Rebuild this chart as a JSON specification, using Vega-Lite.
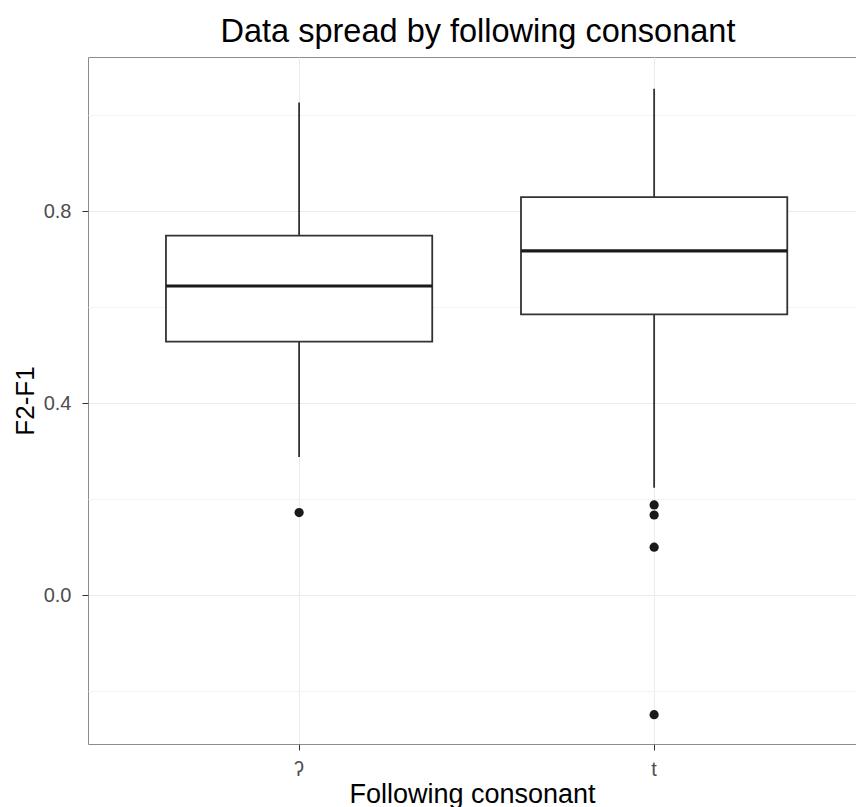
{
  "$schema": "https://vega.github.io/schema/vega-lite/v6.json",
  "autosize": {"type": "none"},
  "padding": {"left": 88, "top": 57, "right": 0, "bottom": 63},
  "width": 768,
  "height": 687,
  "background": "white",
  "title": {"text": "Data spread by following consonant", "fontSize": 32.5, "font": "Liberation Sans", "fontWeight": "normal", "color": "#000000", "anchor": "middle", "dx": 6, "offset": 9},
  "config": {
    "font": "Liberation Sans",
    "view": {"stroke": "#8c8c8c", "strokeWidth": 1}
  },
  "datasets": {
    "boxes": [
      {"consonant": "ʔ", "lower": 0.288, "q1": 0.528, "median": 0.644, "q3": 0.749, "upper": 1.026},
      {"consonant": "t", "lower": 0.224, "q1": 0.585, "median": 0.717, "q3": 0.829, "upper": 1.055}
    ],
    "outliers": [
      {"consonant": "ʔ", "value": 0.172},
      {"consonant": "t", "value": 0.188},
      {"consonant": "t", "value": 0.167},
      {"consonant": "t", "value": 0.100},
      {"consonant": "t", "value": -0.249}
    ]
  },
  "encoding": {
    "x": {
      "field": "consonant", "type": "nominal", "sort": ["ʔ", "t"],
      "scale": {"type": "band", "paddingInner": 0.25, "paddingOuter": 0.2066, "align": 0.5315},
      "axis": {"title": "Following consonant", "titleFontSize": 27, "titleFontWeight": "normal", "titleColor": "#000000", "titlePadding": 2,
               "labelFontSize": 20, "labelColor": "#4d4d4d", "labelAngle": 0, "labelPadding": 9, "tickSize": 6, "tickColor": "#333333",
               "domain": false, "grid": true, "gridColor": "#ebebeb", "bandPosition": 0.5}
    }
  },
  "layer": [
    {
      "data": {"name": "boxes"},
      "mark": {"type": "rule", "color": "#333333", "strokeWidth": 1.8},
      "encoding": {
        "y": {"field": "lower", "type": "quantitative",
              "scale": {"domain": [-0.31, 1.121], "nice": false, "zero": false},
              "axis": {"values": [-0.2, 0.2, 0.6, 1.0], "grid": true, "gridColor": "#f4f4f4", "labels": false, "ticks": false, "domain": false, "title": null, "orient": "left"}},
        "y2": {"field": "upper"}
      }
    },
    {
      "data": {"name": "boxes"},
      "mark": {"type": "bar", "fill": "white", "stroke": "#333333", "strokeWidth": 1.8},
      "encoding": {
        "y": {"field": "q1", "type": "quantitative",
              "axis": {"values": [0, 0.4, 0.8], "format": ".1f", "grid": true, "gridColor": "#ebebeb", "title": "F2-F1", "titleFontSize": 26, "titleFontWeight": "normal", "titleColor": "#000000", "titlePadding": 5,
                       "labelFontSize": 20, "labelColor": "#4d4d4d", "labelPadding": 11, "tickSize": 6, "tickColor": "#333333", "domain": false, "orient": "left"}},
        "y2": {"field": "q3"}
      }
    },
    {
      "data": {"name": "boxes"},
      "mark": {"type": "tick", "color": "#1a1a1a", "thickness": 3.2, "size": 266, "opacity": 1},
      "encoding": {
        "y": {"field": "median", "type": "quantitative", "axis": null}
      }
    },
    {
      "data": {"name": "outliers"},
      "mark": {"type": "circle", "color": "#1a1a1a", "size": 85, "opacity": 1},
      "encoding": {
        "y": {"field": "value", "type": "quantitative", "axis": null}
      }
    }
  ],
  "resolve": {"axis": {"y": "independent"}}
}
